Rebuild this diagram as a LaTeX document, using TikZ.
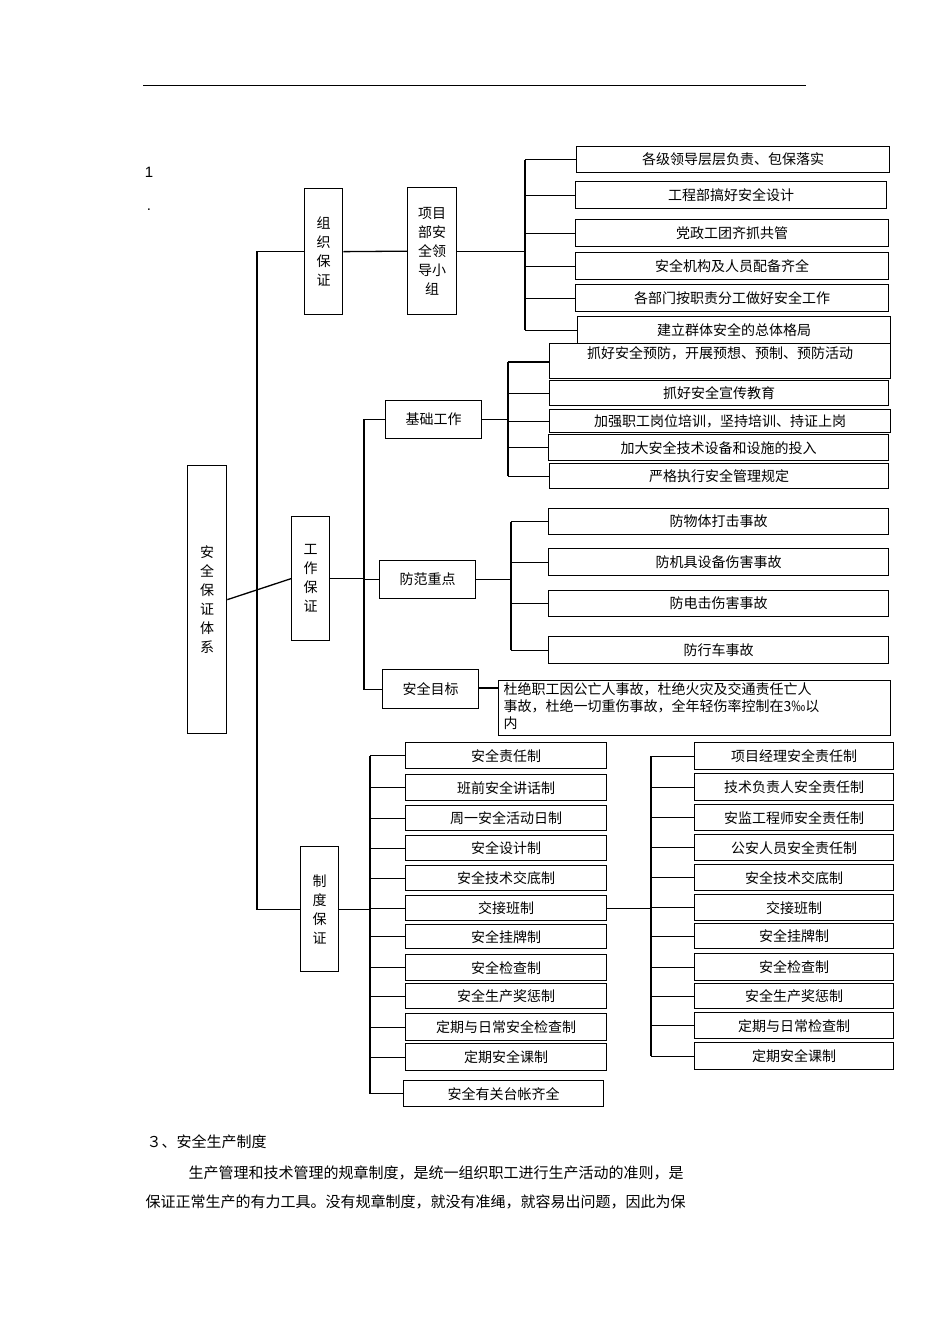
\documentclass[tikz,border=0pt]{standalone}
\usepackage{fontspec}
\setmainfont{Noto Sans CJK SC}
\setsansfont{Liberation Sans}
\begin{document}
\begin{tikzpicture}[x=1pt,y=-1pt,line width=1.3pt,
  box/.style={draw,inner sep=0pt,font=\fontsize{14}{16}\selectfont},
  vbox/.style={draw,inner sep=0pt,font=\fontsize{14}{19}\selectfont,align=center},
  txt/.style={inner sep=0pt,font=\fontsize{15}{17}\selectfont,anchor=base west}]
\newcommand\bx[6]{\node[box,anchor=north west,minimum width={#4-#2},minimum height={#5-#3}] (#1) at (#2,#3) {#6};}
\newcommand\vb[6]{\node[vbox,anchor=north west,minimum width={#4-#2},minimum height={#5-#3}] (#1) at (#2,#3) {#6};}
\useasboundingbox (0,0) rectangle (950,1344);
\draw[line width=1pt] (143,85) -- (806,85);
\node[inner sep=0pt,font=\sffamily\fontsize{15}{17}\selectfont] (one) at (149,172) {1};
\node[inner sep=0pt,font=\sffamily\fontsize{15}{17}\selectfont] (dot) at (149,210) {.};
% main
\vb{main}{187}{465}{226}{733}{安\\全\\保\\证\\体\\系}
\vb{zz}{304}{188}{342}{314}{组\\织\\保\\证}
\vb{xm}{407}{187}{456}{314}{项目\\部安\\全领\\导小\\组}
\vb{gz}{291}{516}{329}{640}{工\\作\\保\\证}
\vb{zd}{300}{846}{338}{971}{制\\度\\保\\证}
\coordinate (trunk) at (257,578);
\draw (main.east) -- (gz.west);
\draw (zz.west) -| (trunk) |- (zd.west);
\draw (zz.east) -- (xm.west);
% org children
\coordinate (b1) at (525,0);
\bx{o1}{576}{146}{889}{172}{各级领导层层负责、包保落实}
\bx{o2}{575}{181}{886}{208}{工程部搞好安全设计}
\bx{o3}{575}{219}{888}{246}{党政工团齐抓共管}
\bx{o4}{575}{252}{888}{279}{安全机构及人员配备齐全}
\bx{o5}{575}{284}{888}{311}{各部门按职责分工做好安全工作}
\bx{o6}{577}{316}{890}{343}{建立群体安全的总体格局}
\draw (xm.east) -- (xm.east -| b1);
\draw (o1.west -| b1) -- (o6.west -| b1);
\foreach \i in {1,...,6} \draw (o\i.west) -- (o\i.west -| b1);
% work
\bx{jc}{385}{400}{481}{438}{基础工作}
\bx{ff}{379}{560}{475}{598}{防范重点}
\bx{mb}{382}{669}{478}{708}{安全目标}
\coordinate (b2) at (364,0);
\draw (gz.east) -- (gz.east -| b2);
\draw (jc.west) -| (b2 |- mb.west) -- (mb.west);
\draw (ff.west) -- (ff.west -| b2);
\coordinate (b3) at (508,0);
\node[box,anchor=north west,minimum width=341,minimum height=35,text depth=17pt] (j1) at (549,343) {抓好安全预防，开展预想、预制、预防活动};
\bx{j2}{549}{380}{888}{405}{抓好安全宣传教育}
\bx{j3}{549}{409}{890}{432}{加强职工岗位培训，坚持培训、持证上岗}
\bx{j4}{548}{434}{888}{460}{加大安全技术设备和设施的投入}
\bx{j5}{549}{463}{888}{488}{严格执行安全管理规定}
\coordinate (j1c) at (549,362);
\draw (jc.east) -- (jc.east -| b3);
\draw (j1c -| b3) -- (j5.west -| b3);
\draw (j1c) -- (j1c -| b3);
\foreach \i in {2,...,5} \draw (j\i.west) -- (j\i.west -| b3);
\coordinate (b4) at (511,0);
\bx{f1}{548}{508}{888}{534}{防物体打击事故}
\bx{f2}{548}{548}{888}{575}{防机具设备伤害事故}
\bx{f3}{548}{590}{888}{616}{防电击伤害事故}
\bx{f4}{548}{636}{888}{663}{防行车事故}
\draw (ff.east) -- (ff.east -| b4);
\draw (f1.west -| b4) -- (f4.west -| b4);
\foreach \i in {1,...,4} \draw (f\i.west) -- (f\i.west -| b4);
\node[draw,anchor=north west,minimum width=392,minimum height=55,inner sep=0pt] (m1) at (498,680) {};
\begin{scope}
\clip (498,680) rectangle (890,735);
\node[inner sep=0pt,font=\fontsize{14}{17}\selectfont,align=left,anchor=north west] (m1t) at (503,682) {杜绝职工因公亡人事故，杜绝火灾及交通责任亡人\\事故，杜绝一切重伤事故，全年轻伤率控制在3‰以\\内};
\end{scope}
\coordinate (m1c) at (498,688);
\draw (mb.east |- m1c) -- (m1c);
% system
\coordinate (b5) at (370,0);
\bx{s1}{405}{742}{606}{768}{安全责任制}
\bx{s2}{405}{774}{606}{800}{班前安全讲话制}
\bx{s3}{405}{805}{606}{830}{周一安全活动日制}
\bx{s4}{405}{835}{606}{860}{安全设计制}
\bx{s5}{405}{865}{606}{890}{安全技术交底制}
\bx{s6}{405}{895}{606}{920}{交接班制}
\bx{s7}{405}{924}{606}{948}{安全挂牌制}
\bx{s8}{405}{954}{606}{980}{安全检查制}
\bx{s9}{405}{983}{606}{1008}{安全生产奖惩制}
\bx{s10}{405}{1013}{606}{1040}{定期与日常安全检查制}
\bx{s11}{405}{1043}{606}{1070}{定期安全课制}
\bx{s12}{403}{1080}{603}{1106}{安全有关台帐齐全}
\draw (zd.east) -- (zd.east -| b5);
\draw (s1.west -| b5) -- (s12.west -| b5);
\foreach \i in {1,...,12} \draw (s\i.west) -- (s\i.west -| b5);
\coordinate (b6) at (651,0);
\bx{r1}{694}{742}{893}{769}{项目经理安全责任制}
\bx{r2}{694}{773}{893}{800}{技术负责人安全责任制}
\bx{r3}{694}{804}{893}{830}{安监工程师安全责任制}
\bx{r4}{694}{834}{893}{860}{公安人员安全责任制}
\bx{r5}{694}{864}{893}{890}{安全技术交底制}
\bx{r6}{694}{894}{893}{920}{交接班制}
\bx{r7}{694}{923}{893}{948}{安全挂牌制}
\bx{r8}{694}{953}{893}{980}{安全检查制}
\bx{r9}{694}{983}{893}{1008}{安全生产奖惩制}
\bx{r10}{694}{1012}{893}{1038}{定期与日常检查制}
\bx{r11}{694}{1042}{893}{1069}{定期安全课制}
\draw (s6.east) -- (s6.east -| b6);
\draw (r1.west -| b6) -- (r11.west -| b6);
\foreach \i in {1,...,11} \draw (r\i.west) -- (r\i.west -| b6);
% text
\node[txt] (h3) at (146,1147) {３、安全生产制度};
\node[txt] (p1) at (188,1178) {生产管理和技术管理的规章制度，是统一组织职工进行生产活动的准则，是};
\node[txt] (p2) at (145,1207) {保证正常生产的有力工具。没有规章制度，就没有准绳，就容易出问题，因此为保};
\end{tikzpicture}
\end{document}
